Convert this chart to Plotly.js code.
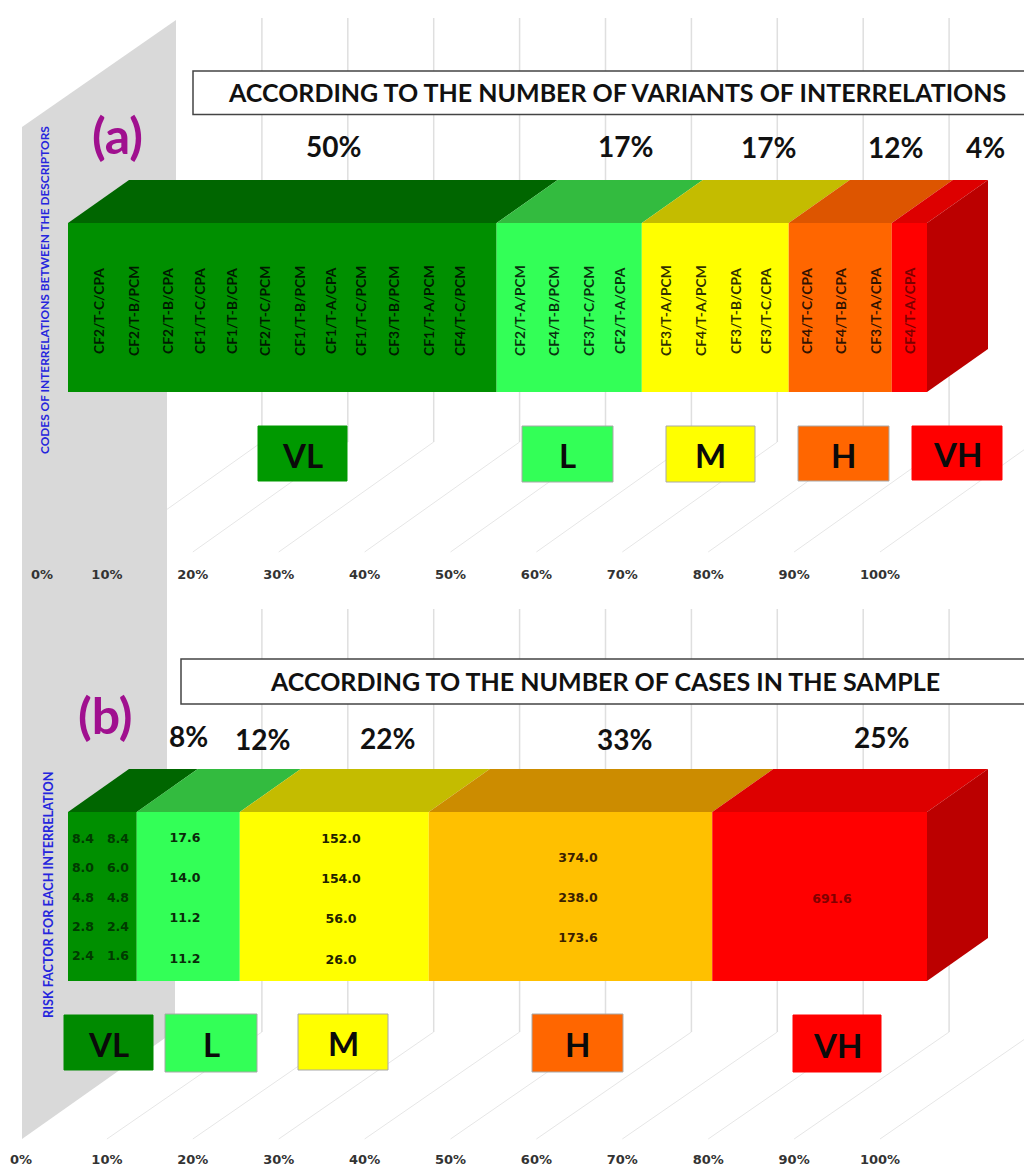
<!DOCTYPE html>
<html><head><meta charset="utf-8">
<script src="https://cdn.plot.ly/plotly-3.0.1.min.js"></script>
<style>html,body{margin:0;padding:0;background:#fff}</style></head>
<body><div id="chart" style="width:1024px;height:1169px"></div>
<script>
// ---------- data ----------
const riskLevels = ['VL','L','M','H','VH'];
const variantShare = [49.9,16.9,17.1,12.0,4.1];
const caseShare = [8,12,22,33,25];
const variantShareLabels = ['50%','17%','17%','12%','4%'];
const caseShareLabels = ['8%','12%','22%','33%','25%'];
const axisTicks = [0,10,20,30,40,50,60,70,80,90,100];
const axisTickLabels = ['0%','10%','20%','30%','40%','50%','60%','70%','80%','90%','100%'];
const interrelationCodes = ['CF2/T-C/CPA','CF2/T-B/PCM','CF2/T-B/CPA','CF1/T-C/CPA','CF1/T-B/CPA','CF2/T-C/PCM','CF1/T-B/PCM','CF1/T-A/CPA','CF1/T-C/PCM','CF3/T-B/PCM','CF1/T-A/PCM','CF4/T-C/PCM','CF2/T-A/PCM','CF4/T-B/PCM','CF3/T-C/PCM','CF2/T-A/CPA','CF3/T-A/PCM','CF4/T-A/PCM','CF3/T-B/CPA','CF3/T-C/CPA','CF4/T-C/CPA','CF4/T-B/CPA','CF3/T-A/CPA','CF4/T-A/CPA'];
const riskVL1 = ['8.4','8.0','4.8','2.8','2.4'];
const riskVL2 = ['8.4','6.0','4.8','2.4','1.6'];
const riskL = ['17.6','14.0','11.2','11.2'];
const riskM = ['152.0','154.0','56.0','26.0'];
const riskH = ['374.0','238.0','173.6'];
const riskVH = ['691.6'];

// ---------- geometry and style ----------
const W=1024,H=1169, X0=21, XS=8.59;
const T=px=>(px-X0)/XS;            // pixel -> axis units
const PX=x=>x/W, PY=y=>1-y/H;      // pixel -> paper
const xRange=[T(0),T(W)];
const inset=T(68);                 // bar plane offset from floor-front plane
const barDx=61/XS;
const A={bottom:392,unit:169}, B={bottom:981,unit:169};
const ua=py=>(A.bottom-py)/A.unit, ub=py=>(B.bottom-py)/B.unit;
const barDy=43/169;
const front={a:['#008f00','#33ff57','#ffff00','#ff6600','#ff0000'],b:['#008f00','#33ff57','#ffff00','#ffc000','#ff0000']};
const top_={a:['#006600','#33bb3f','#c4bc00','#dd5500','#dd0000'],b:['#006600','#33bb3f','#c4bc00','#cc8c00','#dd0000']};
const legendFill={a:['#009900','#33ff57','#ffff00','#ff6600','#ff0000'],b:['#008a00','#33ff57','#ffff00','#ff6600','#ff0000']};
const SIDE='#bb0000', WALL='#d9d9d9';
const FONT='Lato', NUMF='"DejaVu Sans"';

const traces=[];
function panel(shares,xa,ya,key){
  let cum=0;
  shares.forEach((v,i)=>{
    const x0=cum+inset,x1=x0+v;
    traces.push({type:'bar',orientation:'h',name:riskLevels[i],x:[v],base:[x0],y:[0.5],width:[1],xaxis:xa,yaxis:ya,
      marker:{color:front[key][i],line:{width:0}},hoverinfo:'skip',showlegend:false});
    traces.push({type:'scatter',mode:'lines',x:[x0,x1,x1+barDx,x0+barDx,x0],y:[1,1,1+barDy,1+barDy,1],fill:'toself',
      fillcolor:top_[key][i],line:{width:0},xaxis:xa,yaxis:ya,hoverinfo:'skip',showlegend:false});
    cum+=v;
  });
  const xe=cum+inset;
  traces.push({type:'scatter',mode:'lines',x:[xe,xe+barDx,xe+barDx,xe,xe],y:[0,barDy,1+barDy,1,0],fill:'toself',
    fillcolor:SIDE,line:{width:0},xaxis:xa,yaxis:ya,hoverinfo:'skip',showlegend:false});
}
panel(variantShare,'x','y','a');
panel(caseShare,'x2','y2','b');

function numbers(vals,px,pys,color){
  traces.push({type:'scatter',mode:'text',x:vals.map(()=>T(px)),y:pys.map(ub),text:vals,xaxis:'x2',yaxis:'y2',
    textposition:'middle center',textfont:{family:NUMF,size:12.5,color:color,weight:700},hoverinfo:'skip',showlegend:false});
}
numbers(riskVL1,83,[840,869,899,928,957],'#013a01');
numbers(riskVL2,118,[840,869,899,928,957],'#013a01');
numbers(riskL,185,[839,879,919,960],'#0a2a0a');
numbers(riskM,341,[840,880,920,961],'#222200');
numbers(riskH,578,[859,899,939],'#3a2000');
numbers(riskVH,832,[900],'#800000');

// ---------- walls, floor lines ----------
const shapes=[];
function gridLines(pyFront,pyBack,pyTop){
  axisTicks.slice(1).forEach(t=>{
    const xb=t+155/XS;
    shapes.push({type:'path',layer:'below',xref:'x',yref:'paper',
      path:`M${t},${PY(pyFront)}L${xb},${PY(pyBack)}`,line:{color:'#e6e6e6',width:1}});
    shapes.push({type:'path',layer:'below',xref:'x',yref:'paper',
      path:`M${xb},${PY(pyBack)}L${xb},${PY(pyTop)}`,line:{color:'#dfdfdf',width:1.5}});
  });
}
gridLines(552,442,18);
gridLines(1139,1032,609);
const wall=[[22,127],[176,20],[176,392],[167,392],[167,769],[175,769],[175,1031],[22,1139]];
shapes.push({type:'path',layer:'below',xref:'x',yref:'paper',fillcolor:WALL,line:{width:0},
  path:'M'+wall.map(p=>T(p[0])+','+PY(p[1])).join('L')+'Z'});

// ---------- annotations ----------
const ann=[];
const note=(text,x,y,size,color,extra)=>ann.push(Object.assign({text,x:PX(x),y:PY(y),xref:'paper',yref:'paper',showarrow:false,
  xanchor:'center',yanchor:'middle',font:{family:FONT,size,color,weight:700}},extra||{}));
function box(x0,y0,x1,y1,fill,line,w){
  shapes.push({type:'rect',layer:'above',xref:'paper',yref:'paper',x0:PX(x0),x1:PX(x1),y0:PY(y0),y1:PY(y1),fillcolor:fill,line:{color:line,width:w}});
}
box(193,71,1040,114.5,'#ffffff','#444444',1.5);
box(181,659,1040,704,'#ffffff','#444444',1.5);
note('ACCORDING TO THE NUMBER OF VARIANTS OF INTERRELATIONS',616.5,92,25,'#111');
note('ACCORDING TO THE NUMBER OF CASES IN THE SAMPLE',604.5,681,25,'#111');
note('(a)',117,135,50,'#a0108f');
note('(b)',105,715,50,'#a0108f');
note('CODES OF INTERRELATIONS BETWEEN THE DESCRIPTORS',45,290,11.9,'#2525dd',{textangle:-90});
note('RISK FACTOR FOR EACH INTERRELATION',48,895,12.7,'#2525dd',{textangle:-90});
[333,625,768,895,985].forEach((x,i)=>note(variantShareLabels[i],x,[146,146,147,147,147][i],28,'#111'));
[188,262,387,624,881].forEach((x,i)=>note(caseShareLabels[i],x,[736,739,738,739,737][i],28,'#111'));
const codeX=[98,133,167,199,231,264,299,330,360,393,428,459,519,553,588,619,665,700,735,765,806,840,875,909];
interrelationCodes.forEach((c,i)=>note(c,codeX[i],311,13.8,i>=23?'#7a0000':'rgba(0,0,0,0.82)',{textangle:-90}));
const legA=[[258,426,347,481],[522,426,613,482],[666,426,755,482],[798,426,889,481],[912,426,1002,480]];
const legB=[[64,1015,153,1070],[165,1014,257,1072],[298,1014,388,1070],[532,1014,623,1072],[793,1015,881,1072]];
[[legA,'a'],[legB,'b']].forEach(([L,k])=>L.forEach((r,i)=>{
  box(r[0],r[1],r[2],r[3],legendFill[k][i],i<1||i==4?legendFill[k][i]:'#a8a8a8',1);
  note(riskLevels[i],(r[0]+r[2])/2,(r[1]+r[3])/2+1,33,'#0a0a0a');
}));

// ---------- layout ----------
const tickFont={family:NUMF,size:13,color:'#333',weight:700};
const xax=(pos,vals)=>({range:xRange,domain:[0,1],anchor:'free',position:pos,tickmode:'array',tickvals:vals,ticktext:axisTickLabels,
  showgrid:false,zeroline:false,showline:false,ticks:'',tickfont:tickFont,fixedrange:true,tickangle:0});
const yax=(range,domain)=>({range,domain,visible:false,fixedrange:true});
const aTicks=axisTicks.map(t=>t===0?T(42):t);
const layout={width:W,height:H,margin:{l:0,r:0,t:0,b:0},barmode:'overlay',paper_bgcolor:'#fff',plot_bgcolor:'rgba(0,0,0,0)',showlegend:false,
  xaxis:xax(PY(565),aTicks),yaxis:yax([ua(600),ua(0)],[PY(600),1]),
  xaxis2:xax(PY(1150),axisTicks),yaxis2:yax([ub(H),ub(600)],[0,PY(600)]),
  shapes,annotations:ann};
Plotly.newPlot('chart',traces,layout,{displayModeBar:false,staticPlot:true});
</script></body></html>
